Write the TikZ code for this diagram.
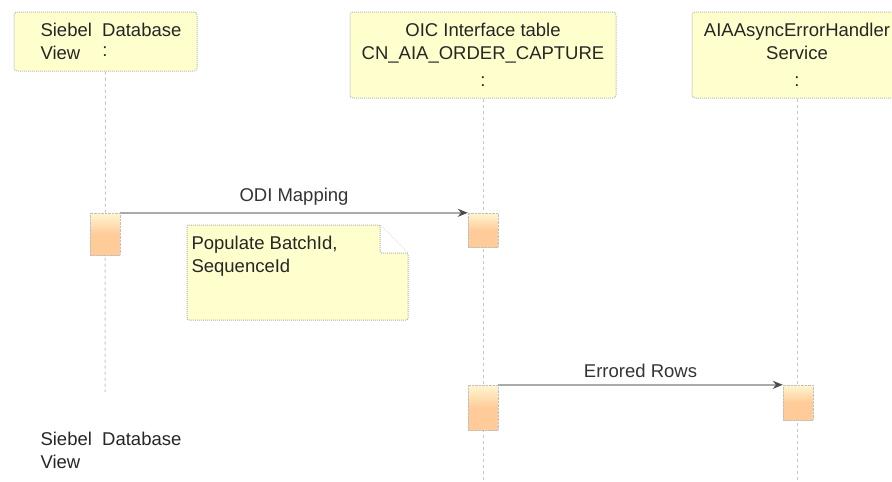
\documentclass[tikz,border=0pt]{standalone}
\usepackage{fontspec}
\setmainfont{Liberation Sans}
\usepackage{xcolor}
\usepackage{tikz}
\usetikzlibrary{arrows.meta}
\usetikzlibrary{positioning}

\definecolor{boxfill}{RGB}{255,255,206}
\definecolor{actpeach}{RGB}{255,204,153}
\definecolor{actlight}{RGB}{255,246,210}
\definecolor{linegray}{RGB}{170,170,170}

\begin{document}
\begin{tikzpicture}[
	x=1pt, y=-1pt,
	font=\fontsize{18.5}{23}\selectfont,
	text=black!85
]
\tikzset{
    headbox/.style = {rectangle, rounded corners=3pt, draw=gray!55, densely dotted, line width=1pt, fill=boxfill, align=center},
    notebox/.style = {draw=gray!60, densely dotted, line width=1pt, fill=boxfill, rounded corners=2pt},
    actbox/.style = {rectangle, draw=gray!50, densely dotted, minimum width=30pt, top color=actlight, bottom color=actpeach, middle color=actpeach},
    lifeline/.style = {draw=gray!45, dash pattern=on 3pt off 3pt, line width=1pt},
    msgline/.style = {draw=linegray, line width=2.2pt, -{Stealth[length=10pt,width=8pt,color=black!70]}},
}
\useasboundingbox (0,0) rectangle (892,482);

\node[headbox, minimum width=183pt, minimum height=59pt] (siebel) at (105.5,41.5) {};
\node[anchor=west, align=left] (siebeltxt) at (37,41.5) {Siebel\ \ Database\\View};
\node (siebelmark) at (105,52) {:};
\node[headbox, minimum width=266pt, minimum height=86pt] (oic) at (483,55) {OIC Interface table\\CN\_AIA\_ORDER\_CAPTURE\\[4pt]:};
\node[headbox, minimum width=210pt, minimum height=86pt] (aiaerr) at (797,55) {AIAAsyncErrorHandler\\Service\\[4pt]:};

\coordinate (siebelend) at (105,392);
\coordinate (oicend) at (483,482);
\coordinate (aiaerrend) at (797,482);
\draw[lifeline] (siebel.south) -- (siebelend);
\draw[lifeline] (oic.south) -- (oicend);
\draw[lifeline] (aiaerr.south) -- (aiaerrend);

\node[actbox, minimum height=42pt] (act1) at (105,234) {};
\node[actbox, minimum height=34pt] (act2) at (483,230) {};
\node[actbox, minimum height=45pt] (act3) at (483,407.5) {};
\node[actbox, minimum height=35pt] (act4) at (798,402.5) {};

\draw[msgline] (act1.north east) -- (act2.north west) node[midway, above=3pt, text=black!80] {ODI Mapping};
\draw[msgline] (act3.north east) -- (act4.north west) node[midway, above=3pt, text=black!80] {Errored Rows};

\draw[notebox] (187,225) -- (380,225) -- (408,253) -- (408,320) -- (187,320) -- cycle;
\draw[notebox, fill=white] (380,225) -- (380,253) -- (408,253);
\node[anchor=north west, align=left] (notetxt) at (188,233) {Populate BatchId,\\SequenceId};

\node[anchor=west, align=left] (siebelfoot) at (37,450) {Siebel\ \ Database\\View};
\end{tikzpicture}
\end{document}
